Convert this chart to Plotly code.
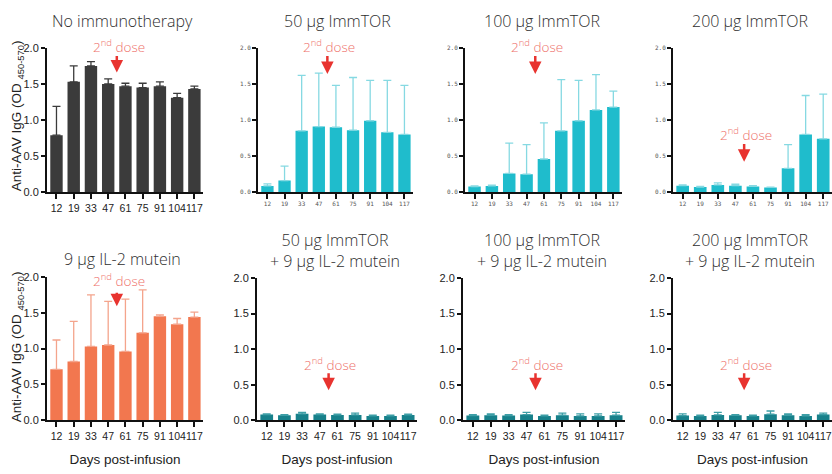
import plotly.graph_objects as go

days = ["12", "19", "33", "47", "61", "75", "91", "104", "117"]

titles = [
    "No immunotherapy", "50 µg ImmTOR", "100 µg ImmTOR", "200 µg ImmTOR",
    "9 µg IL-2 mutein", "50 µg ImmTOR<br>+ 9 µg IL-2 mutein",
    "100 µg ImmTOR<br>+ 9 µg IL-2 mutein", "200 µg ImmTOR<br>+ 9 µg IL-2 mutein",
]

no_immuno = [0.79, 1.53, 1.75, 1.50, 1.47, 1.45, 1.47, 1.31, 1.43]
no_immuno_sd = [0.40, 0.22, 0.06, 0.07, 0.04, 0.06, 0.06, 0.06, 0.04]

immtor_50 = [0.086, 0.16, 0.85, 0.91, 0.90, 0.86, 0.99, 0.83, 0.80]
immtor_50_sd = [0.03, 0.20, 0.77, 0.74, 0.58, 0.73, 0.56, 0.72, 0.68]

immtor_100 = [0.077, 0.086, 0.26, 0.25, 0.46, 0.85, 0.99, 1.14, 1.18]
immtor_100_sd = [0.01, 0.01, 0.42, 0.41, 0.50, 0.71, 0.56, 0.49, 0.22]

immtor_200 = [0.09, 0.07, 0.10, 0.09, 0.08, 0.065, 0.33, 0.80, 0.74]
immtor_200_sd = [0.01, 0.01, 0.03, 0.02, 0.01, 0.005, 0.33, 0.54, 0.62]

il2 = [0.71, 0.82, 1.03, 1.05, 0.96, 1.22, 1.45, 1.34, 1.44]
il2_sd = [0.41, 0.56, 0.72, 0.61, 0.73, 0.60, 0.02, 0.08, 0.07]

combo_50 = [0.08, 0.07, 0.09, 0.08, 0.075, 0.075, 0.06, 0.06, 0.075]
combo_50_sd = [0.01, 0.01, 0.02, 0.01, 0.01, 0.025, 0.01, 0.01, 0.01]

combo_100 = [0.065, 0.07, 0.065, 0.08, 0.06, 0.07, 0.06, 0.06, 0.07]
combo_100_sd = [0.015, 0.02, 0.015, 0.03, 0.01, 0.03, 0.03, 0.03, 0.04]

combo_200 = [0.065, 0.06, 0.075, 0.07, 0.06, 0.085, 0.07, 0.06, 0.08]
combo_200_sd = [0.025, 0.01, 0.035, 0.01, 0.01, 0.045, 0.02, 0.02, 0.02]

series = [no_immuno, immtor_50, immtor_100, immtor_200, il2, combo_50, combo_100, combo_200]
sds = [no_immuno_sd, immtor_50_sd, immtor_100_sd, immtor_200_sd, il2_sd, combo_50_sd, combo_100_sd, combo_200_sd]

bar_colors = ["#3b3b3b", "#1fbccc", "#1fbccc", "#1fbccc", "#f2774f", "#17808a", "#17808a", "#17808a"]
err_colors = ["#3b3b3b", "#86d9e2", "#86d9e2", "#86d9e2", "#f4a48c", "#3d9ea6", "#3d9ea6", "#3d9ea6"]

W, H = 832, 474

# pixel layout of each panel: (x_left, x_right, y_zero, y_two)
panels = [
    (47, 203, 191, 43), (258, 413, 191, 43), (465, 622, 191, 43), (673, 832, 191, 43),
    (47, 203, 425, 278), (257, 417, 425, 279), (463, 625, 425, 279), (673, 832, 425, 279),
]
title_pos = [(122, 15), (337, 15), (542, 15), (750, 15),
             (122, 260), (335, 251), (542, 251), (750, 251)]
# "2nd dose" marker: (text y, arrow tail y, arrow head y) in data units
dose = [(2.03, 1.91, 1.66), (2.03, 1.91, 1.64), (2.03, 1.91, 1.64), (0.80, 0.69, 0.42),
        (1.96, 1.80, 1.59), (0.79, 0.68, 0.42), (0.79, 0.68, 0.42), (0.79, 0.68, 0.42)]

fig = go.Figure()
annotations = []
layout = {}
SANS = "Liberation Sans, Arial, sans-serif"

for i in range(8):
    n = i + 1
    xa = "x" if n == 1 else f"x{n}"
    ya = "y" if n == 1 else f"y{n}"
    fig.add_trace(go.Bar(
        x=days, y=series[i], xaxis=xa, yaxis=ya,
        marker=dict(color=bar_colors[i], line=dict(width=0)),
        width=0.72,
        error_y=dict(type="data", array=sds[i], arrayminus=[0] * 9, symmetric=False,
                     color=err_colors[i], thickness=1.3, width=4),
        showlegend=False, hoverinfo="skip",
    ))
    xl, xr, y0, y2 = panels[i]
    tiny = i in (1, 2, 3)
    tickfont = dict(family=SANS if not tiny else "DejaVu Sans Mono, monospace",
                    size=10.5 if not tiny else 6, color="#222" if not tiny else "#555")
    ytickfont = dict(family=SANS if not tiny else "DejaVu Sans Mono, monospace",
                     size=11 if not tiny else 6, color="#222" if not tiny else "#555")
    layout["xaxis" if n == 1 else f"xaxis{n}"] = dict(
        domain=[xl / W, xr / W], anchor=ya, type="category", range=[-0.55, 8.5],
        showline=True, linecolor="#111", linewidth=2, ticks="outside", ticklen=5,
        tickwidth=1.5, tickcolor="#111", tickfont=tickfont, showgrid=False, tickangle=0,
        title=dict(text="Days post-infusion", font=dict(family=SANS, size=13.5, color="#222"),
                   standoff=14) if i >= 4 else None,
    )
    layout["yaxis" if n == 1 else f"yaxis{n}"] = dict(
        domain=[1 - y0 / H, 1 - y2 / H], anchor=xa, range=[0, 2.0],
        tickvals=[0, 0.5, 1.0, 1.5, 2.0], tickformat=".1f",
        showline=True, linecolor="#111", linewidth=2, ticks="outside", ticklen=4,
        tickwidth=1.5, tickcolor="#111", tickfont=ytickfont, showgrid=False, zeroline=False,
    )
    tx, ty = title_pos[i]
    annotations.append(dict(text=titles[i], x=tx / W, y=1 - ty / H, xref="paper", yref="paper",
                            showarrow=False, xanchor="center", yanchor="middle",
                            font=dict(family="Open Sans", size=16, color="#2e2e2e", weight=300)))
    t_y, a_tail, a_head = dose[i]
    text_py = y0 - t_y / 2.0 * (y0 - y2)
    annotations.append(dict(text="2<sup>nd</sup> dose", x=3.6, y=1 - text_py / H, xref=xa, yref="paper",
                            showarrow=False, xanchor="center", yanchor="middle",
                            font=dict(family="Open Sans", size=13.5, color="#ee6f6a", weight=300)))
    annotations.append(dict(text="", x=3.5, y=a_head, ax=3.5, ay=a_tail, xref=xa, yref=ya,
                            axref=xa, ayref=ya, showarrow=True, arrowhead=2, arrowsize=1,
                            arrowwidth=2.5, arrowcolor="#e8332f"))

for yc in (113, 350):
    annotations.append(dict(text="Anti-AAV IgG (OD <sub>450-570</sub>)", x=17 / W, y=1 - yc / H,
                            xref="paper", yref="paper", showarrow=False, textangle=-90,
                            xanchor="center", yanchor="middle",
                            font=dict(family=SANS, size=13.5, color="#222")))

fig.update_layout(**layout)
fig.update_layout(width=W, height=H, margin=dict(l=0, r=0, t=0, b=0),
                  paper_bgcolor="white", plot_bgcolor="white",
                  annotations=annotations, bargap=0.28)
fig.write_html("out.html")
